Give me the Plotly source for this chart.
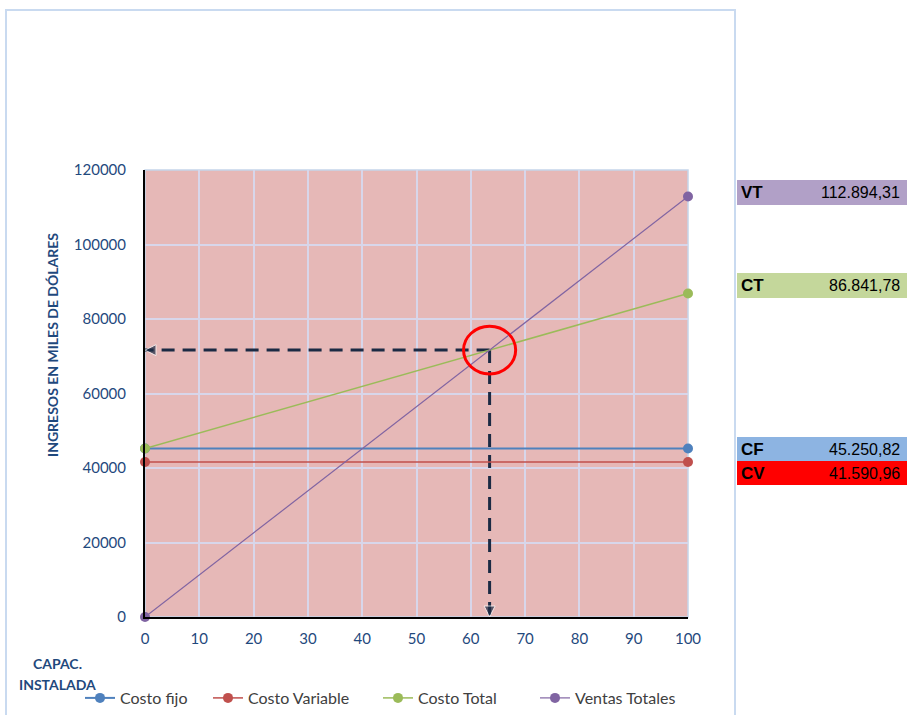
import plotly.graph_objects as go

# ---- data -------------------------------------------------------------
capacidad = [0, 100]                      # % capacidad instalada
costo_fijo = [45250.82, 45250.82]
costo_variable = [41590.96, 41590.96]
costo_total = [45250.82, 86841.78]
ventas_totales = [0, 112894.31]

resumen_labels = ["VT", "CT", "CF", "CV"]
resumen_values = [112894.31, 86841.78, 45250.82, 41590.96]
resumen_colors = ["#B1A0C7", "#C4D79B", "#8DB4E2", "#FF0000"]

x_ticks = [0, 10, 20, 30, 40, 50, 60, 70, 80, 90, 100]
y_ticks = [0, 20000, 40000, 60000, 80000, 100000, 120000]

# ---- layout geometry (pixels) ----------------------------------------
W, H = 907, 715
L, R, T, B = 145, 219, 170, 98
PW, PH = W - L - R, H - T - B


def px_x(p):
    return (p - L) / PW


def px_y(p):
    return (H - B - p) / PH


def fmt_es(v):
    s = f"{v:,.2f}"
    return s.replace(",", "X").replace(".", ",").replace("X", ".")


# break-even point (Costo Total = Ventas Totales)
ct_slope = (costo_total[1] - costo_total[0]) / (capacidad[1] - capacidad[0])
vt_slope = (ventas_totales[1] - ventas_totales[0]) / (capacidad[1] - capacidad[0])
x_be = (costo_total[0] - ventas_totales[0]) / (vt_slope - ct_slope)
y_be = costo_total[0] + ct_slope * x_be

fig = go.Figure()

series = [
    ("Costo fijo", costo_fijo, "#4F81BD", 2, "legend", 80),
    ("Costo Variable", costo_variable, "#C0504D", 1.5, "legend2", 208),
    ("Costo Total", costo_total, "#9BBB59", 1.5, "legend3", 378),
    ("Ventas Totales", ventas_totales, "#8064A2", 1.2, "legend4", 535),
]

# guide lines to the break-even point
guide = "#1B2A44"
fig.add_trace(go.Scatter(
    x=[x_be, 0], y=[y_be, y_be], mode="lines+markers", showlegend=False,
    line=dict(color=guide, width=3, dash="13px,8px"),
    marker=dict(symbol=["circle", "arrow-left"], size=[0, 11], color=guide),
    cliponaxis=False, hoverinfo="skip"))
fig.add_trace(go.Scatter(
    x=[x_be, x_be], y=[y_be, 0], mode="lines+markers", showlegend=False,
    line=dict(color=guide, width=3, dash="13px,8px"),
    marker=dict(symbol=["circle", "arrow-down"], size=[0, 11], color=guide),
    cliponaxis=False, hoverinfo="skip"))

for name, ys, col, w, leg, _ in series:
    fig.add_trace(go.Scatter(
        x=capacidad, y=ys, name=name, mode="lines+markers",
        line=dict(color=col, width=w),
        marker=dict(color=col, size=10),
        legend=leg, cliponaxis=False))

shapes = []
# outer chart frame
shapes.append(dict(type="rect", xref="paper", yref="paper",
                   x0=px_x(6), x1=px_x(735), y0=px_y(760), y1=px_y(10),
                   line=dict(color="#C9DAF0", width=2), layer="below"))
# plot-area frame (light)
shapes.append(dict(type="rect", xref="paper", yref="paper",
                   x0=0, x1=1, y0=0, y1=1,
                   line=dict(color="#C5D5EA", width=1.5), layer="below"))
# break-even marker circle
rx, ry = 4.8, 6400
shapes.append(dict(type="circle", xref="x", yref="y",
                   x0=x_be - rx, x1=x_be + rx, y0=y_be - ry, y1=y_be + ry,
                   line=dict(color="#FF0000", width=3)))

annotations = []
# summary boxes on the right
box_top = [180, 273, 437, 461]
box_h = [25, 25, 24, 24]
for lab, val, col, top, hgt in zip(resumen_labels, resumen_values, resumen_colors, box_top, box_h):
    shapes.append(dict(type="rect", xref="paper", yref="paper",
                       x0=px_x(737), x1=px_x(907), y0=px_y(top + hgt), y1=px_y(top),
                       fillcolor=col, line=dict(width=0)))
    annotations.append(dict(xref="paper", yref="paper", x=px_x(739), y=px_y(top + hgt / 2),
                            text=f"<b>{lab}</b>", showarrow=False,
                            xanchor="left", yanchor="middle",
                            font=dict(family="Liberation Sans, Arial", size=17, color="#000000")))
    annotations.append(dict(xref="paper", yref="paper", x=px_x(902), y=px_y(top + hgt / 2),
                            text=fmt_es(val), showarrow=False,
                            xanchor="right", yanchor="middle",
                            font=dict(family="Liberation Sans, Arial", size=16, color="#000000")))

title_col = "#1F497D"
annotations.append(dict(xref="paper", yref="paper", x=px_x(52), y=px_y(345),
                        text="<b>INGRESOS EN MILES DE DÓLARES</b>", textangle=-90,
                        showarrow=False, xanchor="center", yanchor="middle",
                        font=dict(family="Lato", size=14, color=title_col)))
annotations.append(dict(xref="paper", yref="paper", x=px_x(57), y=px_y(663),
                        text="<b>CAPAC.</b>", showarrow=False,
                        xanchor="center", yanchor="middle",
                        font=dict(family="Lato", size=14, color=title_col)))
annotations.append(dict(xref="paper", yref="paper", x=px_x(57), y=px_y(684),
                        text="<b>INSTALADA</b>", showarrow=False,
                        xanchor="center", yanchor="middle",
                        font=dict(family="Lato", size=14, color=title_col)))

# one legend box per series, laid out in a row under the axis
legends = {}
for name, ys, col, w, leg, xpix in series:
    legends[leg] = dict(orientation="h", xref="container", yref="container",
                        x=xpix / W, y=(H - 698) / H, xanchor="left", yanchor="middle",
                        font=dict(family="Lato", size=16, color="#404040"),
                        itemwidth=30, bgcolor="rgba(0,0,0,0)", borderwidth=0)

fig.update_layout(
    width=W, height=H,
    margin=dict(l=L, r=R, t=T, b=B, pad=0, autoexpand=False),
    paper_bgcolor="#FFFFFF",
    plot_bgcolor="#E6B8B7",
    font=dict(family="Lato", size=15, color=title_col),
    shapes=shapes,
    annotations=annotations,
    xaxis=dict(range=[0, 100], tickvals=x_ticks, showgrid=True, gridcolor="#D8D6EA",
               gridwidth=2, zeroline=False, showline=True, linecolor="#000000",
               linewidth=2, ticks="", ticklabelstandoff=7,
               tickfont=dict(size=15, color=title_col)),
    yaxis=dict(range=[0, 120000], tickvals=y_ticks, tickformat="d", showgrid=True,
               gridcolor="#D8D6EA", gridwidth=2, zeroline=False, showline=True,
               linecolor="#000000", linewidth=2, ticks="", ticklabelstandoff=14,
               tickfont=dict(size=15, color=title_col)),
    **legends,
)

fig.write_html("out.html")
